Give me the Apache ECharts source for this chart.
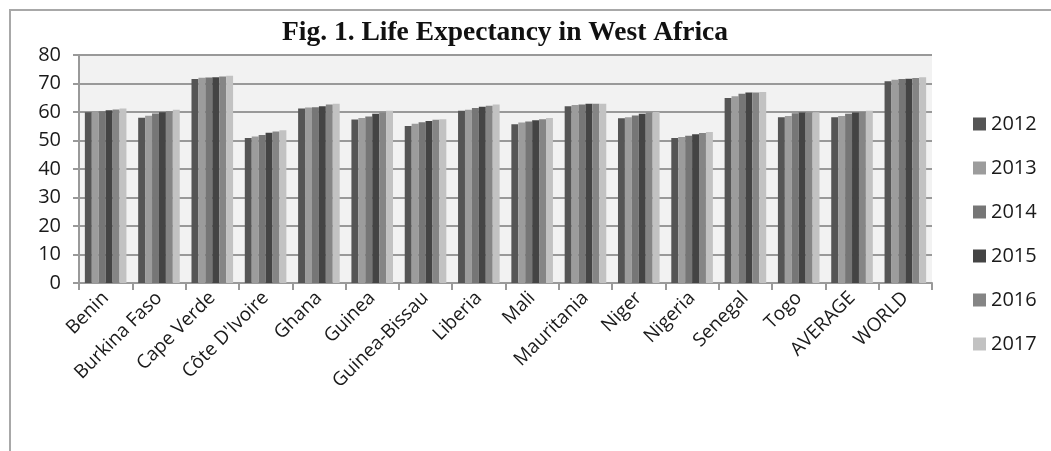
<!DOCTYPE html>
<html>
<head>
<meta charset="utf-8">
<script src="https://cdn.jsdelivr.net/npm/echarts@6/dist/echarts.min.js"></script>
<style>
html,body{margin:0;padding:0;background:#fff;}
#demo{width:1051px;height:451px;}
</style>
</head>
<body>
<div id="demo"></div>
<script>
// categories and years
var countries = ["Benin","Burkina Faso","Cape Verde","Côte D'Ivoire","Ghana","Guinea","Guinea-Bissau","Liberia","Mali","Mauritania","Niger","Nigeria","Senegal","Togo","AVERAGE","WORLD"];
var years = ["2012","2013","2014","2015","2016","2017"];
var yTicks = [0,10,20,30,40,50,60,70,80];

// life expectancy per year, one value per country
var le2012 = [59.9, 58.0, 71.6, 50.9, 61.2, 57.4, 55.1, 60.4, 55.7, 62.0, 57.8, 50.9, 64.9, 58.2, 58.2, 70.8];
var le2013 = [60.1, 58.7, 72.0, 51.4, 61.6, 57.9, 55.9, 60.8, 56.3, 62.5, 58.2, 51.2, 65.5, 58.6, 58.6, 71.3];
var le2014 = [60.3, 59.5, 72.1, 51.9, 61.7, 58.4, 56.4, 61.4, 56.7, 62.6, 58.8, 51.7, 66.4, 59.6, 59.4, 71.6];
var le2015 = [60.6, 59.9, 72.2, 52.7, 62.0, 59.4, 56.8, 61.8, 57.1, 62.9, 59.4, 52.2, 66.8, 59.8, 59.8, 71.7];
var le2016 = [60.9, 60.3, 72.5, 53.2, 62.6, 59.8, 57.3, 62.2, 57.5, 62.9, 59.8, 52.6, 66.8, 59.8, 60.0, 71.9];
var le2017 = [61.2, 60.8, 72.7, 53.6, 62.9, 60.4, 57.5, 62.6, 57.9, 62.9, 60.0, 53.0, 67.0, 59.9, 60.4, 72.2];
var allValues = [le2012, le2013, le2014, le2015, le2016, le2017];
var colors = ['#555555','#9c9c9c','#767676','#444444','#858585','#c2c2c2'];

var lblFont = '"Open Sans", "Liberation Sans", sans-serif';

var series = years.map(function(y, i){
    return {
        name: y,
        type: 'bar',
        data: allValues[i],
        barGap: '0%',
        barCategoryGap: '22%',
        itemStyle: {color: colors[i]}
    };
});

var option = {
    backgroundColor: '#fff',
    animation: false,
    title: {
        text: 'Fig. 1. Life Expectancy in West Africa',
        left: 277, top: 14,
        textStyle: {fontFamily: '"Liberation Serif", "Times New Roman", serif', fontWeight: 'bold', fontSize: 27.5, color: '#111'}
    },
    legend: {
        orient: 'vertical',
        left: 968, top: 109,
        itemWidth: 13, itemHeight: 13, itemGap: 24,
        icon: 'rect',
        data: years,
        textStyle: {fontFamily: lblFont, fontSize: 20, color: '#1a1a1a'}
    },
    grid: {
        left: 79, right: 119, top: 55, bottom: 168,
        show: true, backgroundColor: '#f2f2f2', borderWidth: 0
    },
    xAxis: {
        type: 'category',
        data: countries,
        axisLine: {lineStyle: {color: '#999', width: 2}},
        axisTick: {show: true, length: 7, lineStyle: {color: '#999', width: 2}},
        axisLabel: {rotate: 45, fontFamily: lblFont, fontSize: 19, color: '#1a1a1a', margin: 12, interval: 0}
    },
    yAxis: {
        type: 'value',
        min: yTicks[0], max: yTicks[yTicks.length-1], interval: 10,
        axisLine: {show: true, lineStyle: {color: '#999', width: 2}},
        axisTick: {show: true, length: 6, lineStyle: {color: '#999', width: 2}},
        splitLine: {lineStyle: {color: '#999', width: 2}},
        axisLabel: {fontFamily: lblFont, fontSize: 20, color: '#1a1a1a', margin: 18}
    },
    graphic: [{
        type: 'rect',
        shape: {x: 10, y: 10, width: 1060, height: 460},
        style: {fill: 'none', stroke: '#a8a8a8', lineWidth: 2},
        silent: true
    }],
    series: series
};

var myChart = echarts.init(document.getElementById('demo'));
myChart.setOption(option);
</script>
</body>
</html>
